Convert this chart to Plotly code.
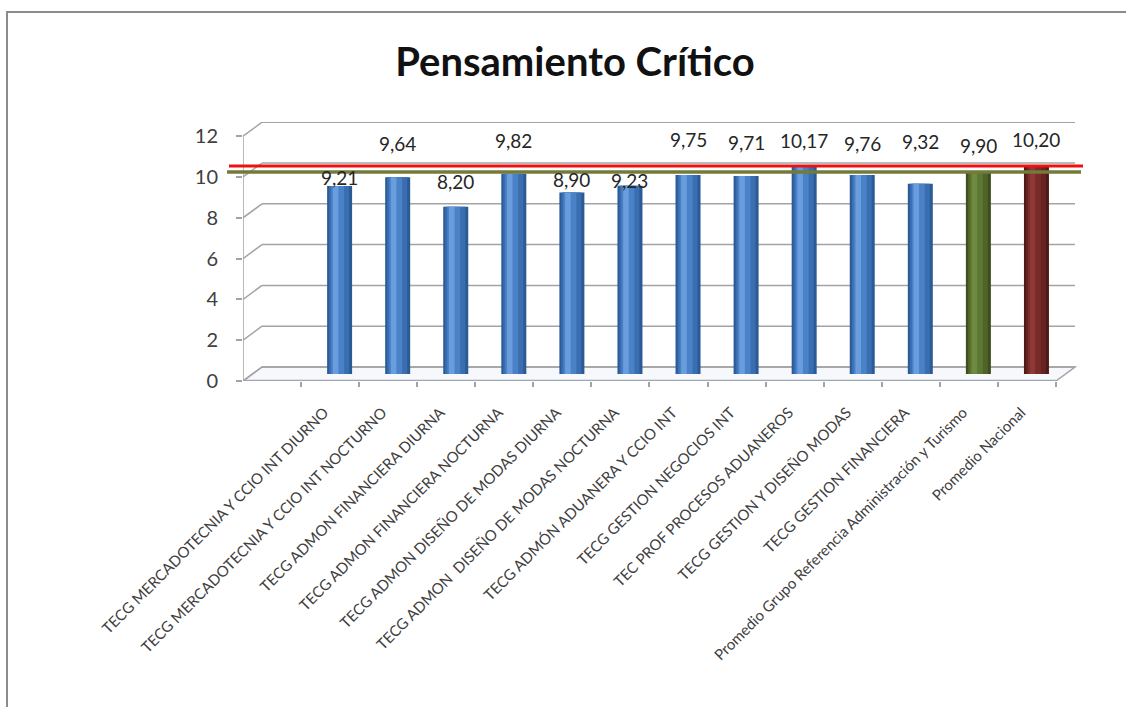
import plotly.graph_objects as go

# ---- data ----
carreras = [
    "TECG MERCADOTECNIA Y CCIO INT DIURNO",
    "TECG MERCADOTECNIA Y CCIO INT NOCTURNO",
    "TECG ADMON FINANCIERA DIURNA",
    "TECG ADMON FINANCIERA NOCTURNA",
    "TECG ADMON DISEÑO DE MODAS DIURNA",
    "TECG ADMON  DISEÑO DE MODAS NOCTURNA",
    "TECG ADMÓN ADUANERA Y CCIO INT",
    "TECG GESTION NEGOCIOS INT",
    "TEC PROF PROCESOS ADUANEROS",
    "TECG GESTION Y DISEÑO MODAS",
    "TECG GESTION FINANCIERA",
    "Promedio Grupo Referencia Administración y Turismo",
    "Promedio Nacional",
]
puntajes = [9.21, 9.64, 8.20, 9.82, 8.90, 9.23, 9.75, 9.71, 10.17, 9.76, 9.32, 9.90, 10.20]
tipo = ["programa"] * 11 + ["referencia", "nacional"]
y_ticks = [0, 2, 4, 6, 8, 10, 12]

# vertical offsets (px) of the value labels above each cylinder
desplaz_etiqueta = [-5, 20, 12, 20, -1, -8, 22, 20, 13, 18, 29, 13, 13]

# ---- layout geometry (pixels) ----
W, H = 1126, 707
PL, PR, PT, PB = 243, 1077, 122, 381
SLOT_PX = 58.07          # width of one category slot
UNIT_PX = 20.4           # pixels per score point
DEPTH_X, DEPTH_Y = 19, 14  # oblique offset of the back wall
LABEL_SHIFT = -0.1       # slot offset of the slanted category labels

dx_back = DEPTH_X / SLOT_PX
dy_back = DEPTH_Y / UNIT_PX
dx_mid, dy_mid = dx_back / 2, dy_back / 2

x_range = [-0.5, -0.5 + (PR - PL) / SLOT_PX]
y_range = [0, (PB - PT) / UNIT_PX]

def px_x(p):
    return (p - PL) / (PR - PL)

def px_y(p):
    return (PB - p) / (PB - PT)

slots = list(range(1, len(carreras) + 1))
n_slots = len(carreras) + 1

paleta = {
    "programa":   ["#2B5B95", "#3A6EB1", "#4A82C7", "#6A9DDD"],
    "referencia": ["#3E4E1B", "#4F6429", "#5D7632", "#6E8940"],
    "nacional":   ["#4D1A18", "#652321", "#782B28", "#8D3A36"],
}

BAR_W = 25 / SLOT_PX
# (left edge relative to bar width, width fraction) for the shading layers
capas = [(-0.50, 1.00), (-0.42, 0.80), (-0.34, 0.52), (-0.27, 0.22)]

fig = go.Figure()

for i, (rel_left, frac) in enumerate(capas):
    fig.add_trace(go.Bar(
        x=slots,
        y=puntajes,
        base=dy_mid,
        width=BAR_W * frac,
        offset=dx_mid + BAR_W * rel_left,
        marker=dict(color=[paleta[t][i] for t in tipo], line=dict(width=0)),
        hoverinfo="skip",
        showlegend=False,
    ))

shapes = []
grid_col = "#A3A3A3"

# floor of the 3-D box
shapes.append(dict(
    type="path", xref="x", yref="y",
    path=(f"M {x_range[0]},0 L {n_slots - 0.5},0 "
          f"L {n_slots - 0.5 + dx_back},{dy_back} L {x_range[0] + dx_back},{dy_back} Z"),
    fillcolor="rgba(240,243,248,0.6)", line=dict(color=grid_col, width=1.5), layer="below",
))
shapes.append(dict(type="line", xref="x", yref="y",
                   x0=x_range[0], x1=n_slots - 0.5, y0=0, y1=0,
                   line=dict(color="#9FA8B5", width=2.5), layer="below"))

# back-wall gridlines and their left-wall connectors
for v in y_ticks:
    shapes.append(dict(type="line", xref="x", yref="y",
                       x0=x_range[0] + dx_back, x1=n_slots - 0.5 + dx_back,
                       y0=v + dy_back, y1=v + dy_back,
                       line=dict(color=grid_col, width=1.5), layer="below"))
    shapes.append(dict(type="line", xref="x", yref="y",
                       x0=x_range[0], x1=x_range[0] + dx_back,
                       y0=v, y1=v + dy_back,
                       line=dict(color=grid_col, width=1.5), layer="below"))

# front vertical axis
shapes.append(dict(type="line", xref="x", yref="y",
                   x0=x_range[0], x1=x_range[0], y0=0, y1=y_ticks[-1],
                   line=dict(color=grid_col, width=1.5), layer="below"))

# reference averages
prom_grupo = puntajes[tipo.index("referencia")]
prom_nacional = puntajes[tipo.index("nacional")]
shapes.append(dict(type="line", xref="paper", yref="y",
                   x0=px_x(227), x1=px_x(1081),
                   y0=prom_grupo + dy_mid, y1=prom_grupo + dy_mid,
                   line=dict(color="#747A3A", width=3.5)))
shapes.append(dict(type="line", xref="paper", yref="y",
                   x0=px_x(229), x1=px_x(1083),
                   y0=prom_nacional + dy_mid, y1=prom_nacional + dy_mid,
                   line=dict(color="#EE1111", width=3)))

# outer chart frame
shapes.append(dict(type="rect", xref="paper", yref="paper",
                   x0=px_x(7), x1=px_x(W + 20), y0=px_y(H + 20), y1=px_y(12),
                   line=dict(color="#8C8C8C", width=2), fillcolor="rgba(0,0,0,0)",
                   layer="below"))

annotations = []
for s, v, d in zip(slots, puntajes, desplaz_etiqueta):
    annotations.append(dict(
        x=s + dx_mid, y=v + dy_mid, xref="x", yref="y",
        text=f"{v:.2f}".replace(".", ","),
        showarrow=False, yanchor="bottom", yshift=d,
        font=dict(family="Lato", size=19, color="#262626"),
    ))

fig.update_layout(
    width=W, height=H,
    margin=dict(l=PL, r=W - PR, t=PT, b=H - PB, pad=0),
    paper_bgcolor="white", plot_bgcolor="rgba(0,0,0,0)",
    barmode="overlay",
    title=dict(text="<b>Pensamiento Crítico</b>", x=575 / W, xref="container",
               xanchor="center", y=1 - 62 / H, yref="container", yanchor="middle",
               font=dict(family="Lato", size=40, color="#111111")),
    xaxis=dict(
        range=x_range, tickmode="array", tickvals=[s + LABEL_SHIFT for s in slots],
        ticktext=carreras,
        tickangle=-45, ticks="", showgrid=False, zeroline=False, showline=False,
        tickfont=dict(family="Lato", size=15, color="#404040"),
        ticklabelstandoff=19,
        minor=dict(tickmode="array", tickvals=[k + 0.5 for k in range(n_slots)],
                   ticks="outside", ticklen=5, tickcolor=grid_col, tickwidth=1.5,
                   showgrid=False),
    ),
    yaxis=dict(
        range=y_range, tickmode="array", tickvals=y_ticks,
        ticks="outside", ticklen=6, tickcolor=grid_col, tickwidth=1.5,
        showgrid=False, zeroline=False, showline=False,
        tickfont=dict(family="Lato", size=20, color="#404040"),
        ticklabelstandoff=14,
    ),
    shapes=shapes,
    annotations=annotations,
)

fig.write_html("out.html")
